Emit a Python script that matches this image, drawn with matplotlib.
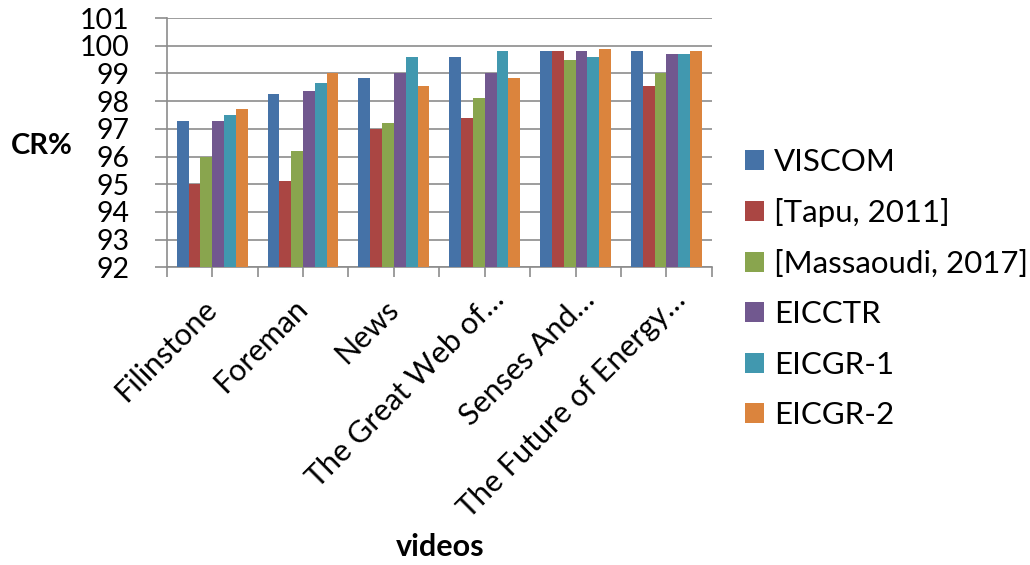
import numpy as np
import matplotlib
matplotlib.use("Agg")
import matplotlib.pyplot as plt
from matplotlib.transforms import ScaledTranslation

plt.rcParams['font.family'] = ['Lato', 'DejaVu Sans']

videos = ["Filinstone", "Foreman", "News", "The Great Web of\u2026",
          "Senses And\u2026", "The Future of Energy\u2026"]
series_names = ["VISCOM", "[Tapu, 2011]", "[Massaoudi, 2017]",
                "EICCTR", "EICGR-1", "EICGR-2"]
viscom = [97.3, 98.25, 98.85, 99.6, 99.8, 99.8]
tapu = [95.0, 95.1, 97.0, 97.4, 99.8, 98.55]
massaoudi = [96.0, 96.2, 97.2, 98.1, 99.5, 99.0]
eicctr = [97.3, 98.35, 99.0, 99.0, 99.8, 99.7]
eicgr1 = [97.5, 98.65, 99.6, 99.8, 99.6, 99.7]
eicgr2 = [97.7, 99.0, 98.55, 98.85, 99.9, 99.8]
y_ticks = list(range(92, 102))

colors = ["#4572A7", "#AA4643", "#89A54E", "#71588F", "#4198AF", "#DB843D"]
all_series = [viscom, tapu, massaoudi, eicctr, eicgr1, eicgr2]

fig = plt.figure(figsize=(10.3, 5.65), dpi=100)
ax = fig.add_axes([0.162, 0.527, 0.529, 0.441])

n = len(all_series)
bw = 0.13
x = np.arange(len(videos))
for i, (vals, name, c) in enumerate(zip(all_series, series_names, colors)):
    offs = (i - (n - 1) / 2) * bw
    ax.bar(x + offs, np.array(vals) - 92, width=bw, bottom=92, color=c,
           label=name, zorder=3, linewidth=0)

ax.set_ylim(92, 101)
ax.set_xlim(-0.5, len(videos) - 0.5)
ax.set_yticks(y_ticks)
ax.set_yticklabels([str(v) for v in y_ticks], fontsize=20.5)
ax.yaxis.grid(True, color="#8c8c8c", linewidth=1.2, zorder=0)
ax.tick_params(axis='y', direction='out', length=9, width=1.2,
               color="#8c8c8c", pad=18)

ax.set_xticks(x)
ax.set_xticklabels(videos, fontsize=22, rotation=45, ha='right',
                   va='center', rotation_mode='anchor')
ax.set_xticks(np.arange(-0.5, len(videos)), minor=True)
ax.tick_params(axis='x', which='both', direction='out', length=7.5,
               width=1.2, color="#8c8c8c", pad=19)

# truncated (ellipsized) labels sit slightly further up and to the right
for lbl in ax.get_xticklabels():
    if lbl.get_text().endswith("\u2026"):
        lbl.set_transform(lbl.get_transform() +
                          ScaledTranslation(15 / 100, 9 / 100,
                                            fig.dpi_scale_trans))

for s in ['top', 'right']:
    ax.spines[s].set_visible(False)
for s in ['left', 'bottom']:
    ax.spines[s].set_color("#8c8c8c")
    ax.spines[s].set_linewidth(1.2)

fig.text(0.041, 0.742, "CR%", fontsize=21, fontweight='bold',
         ha='center', va='center')
fig.text(0.427, 0.031, "videos", fontsize=22, fontweight='bold',
         ha='center', va='center')

ax.legend(loc='upper left', bbox_to_anchor=(1.038, 0.53), frameon=False,
          fontsize=22.5, handlelength=0.6, handleheight=0.6,
          handletextpad=0.32, labelspacing=0.72, borderaxespad=0)

fig.savefig("out.png", dpi=100)
